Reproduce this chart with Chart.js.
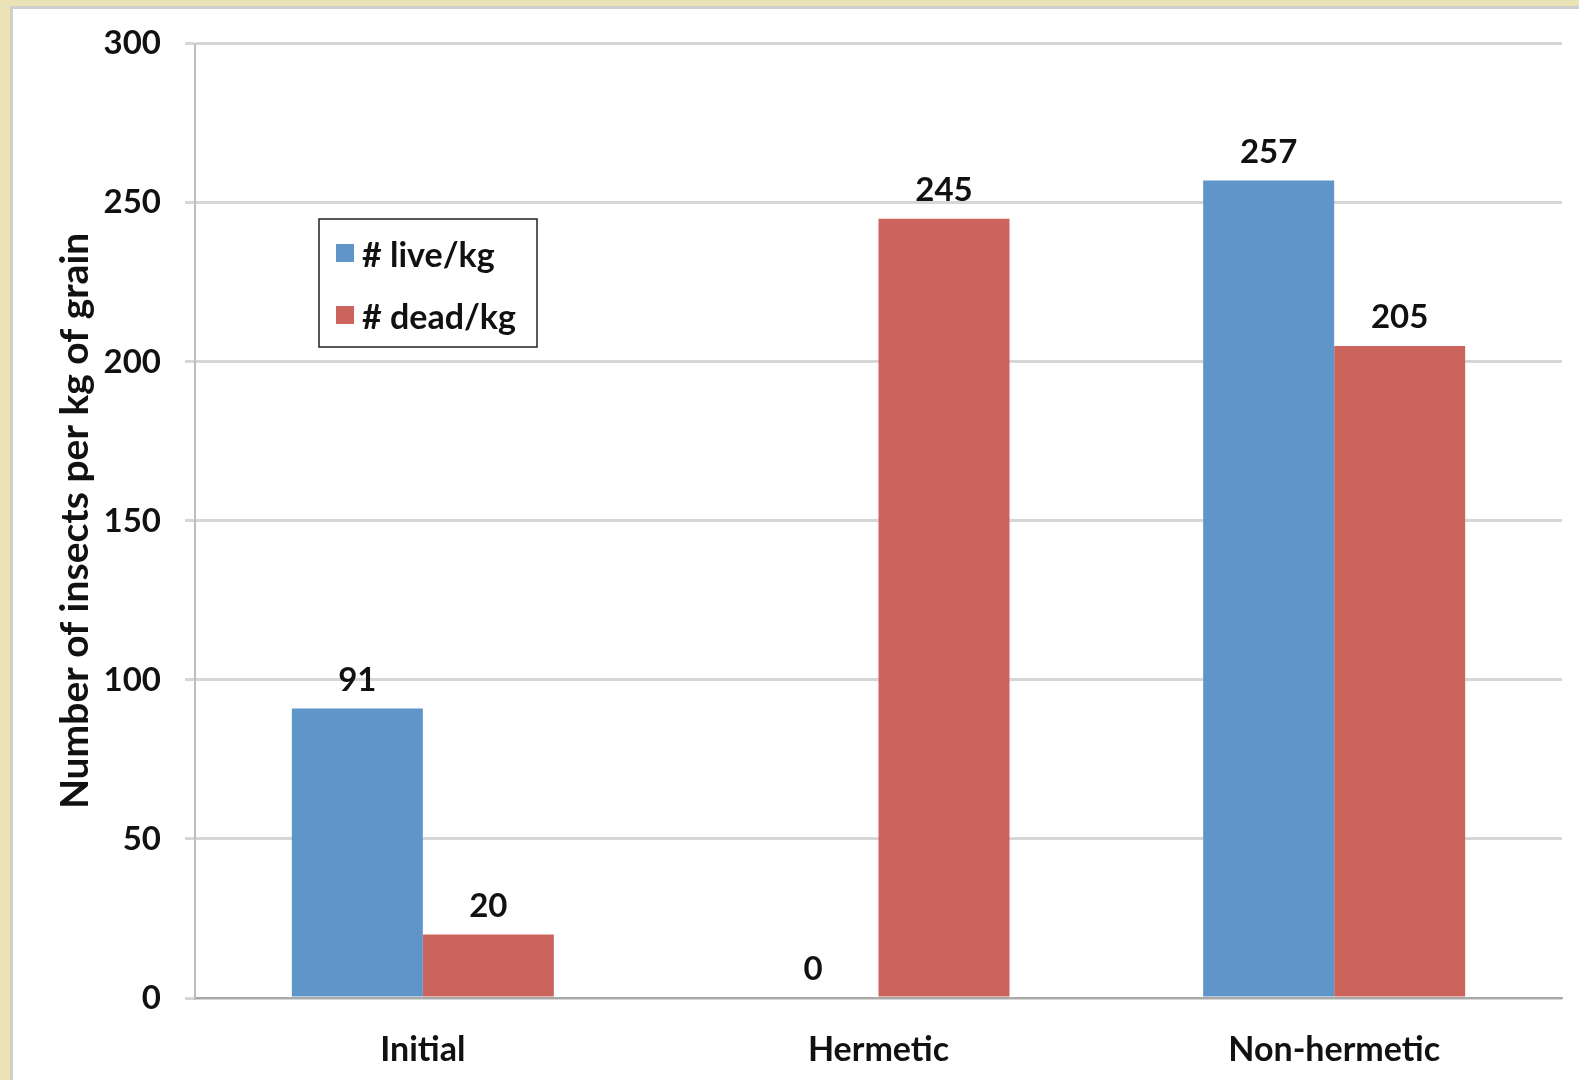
<!DOCTYPE html>
<html>
<head>
<meta charset="utf-8">
<script src="https://cdn.jsdelivr.net/npm/chart.js@4.4.1/dist/chart.umd.min.js"></script>
<style>
  html, body { margin: 0; padding: 0; }
  body { width: 1579px; height: 1080px; background: #ebe2b5; position: relative; overflow: hidden; }
  #panel { position: absolute; left: 10px; top: 6px; right: 0; bottom: 0; background: #fff;
           border-left: 3px solid #cfcfcf; border-top: 3px solid #cfcfcf; }
  #wrap { position: absolute; left: 0; top: 0; width: 1579px; height: 1080px; }
</style>
</head>
<body>
<div id="panel"></div>
<div id="wrap"><canvas id="myChart"></canvas></div>
<script>
// data
const categories = ['Initial', 'Hermetic', 'Non-hermetic'];
const liveValues = [91, 0, 257];
const deadValues = [20, 245, 205];
const seriesNames = ['# live/kg', '# dead/kg'];
const yTicks = [0, 50, 100, 150, 200, 250, 300];

const FONT = 'Lato, "Open Sans", sans-serif';
const blue = '#6095c9';
const red = '#cc645e';

// value labels above bars
const valueLabels = {
  id: 'valueLabels',
  afterDatasetsDraw(chart) {
    const ctx = chart.ctx;
    ctx.save();
    ctx.font = 'bold 33px ' + FONT;
    ctx.fillStyle = '#111';
    ctx.textAlign = 'center';
    ctx.textBaseline = 'bottom';
    chart.data.datasets.forEach((ds, i) => {
      chart.getDatasetMeta(i).data.forEach((bar, j) => {
        ctx.fillText(ds.data[j], bar.x, bar.y - 12);
      });
    });
    ctx.restore();
  }
};

// boxed legend inside the plot
const boxLegend = {
  id: 'boxLegend',
  afterDraw(chart) {
    const ctx = chart.ctx;
    const x0 = 319, y0 = 219, w = 218, h = 128;
    ctx.save();
    ctx.fillStyle = '#fff';
    ctx.fillRect(x0, y0, w, h);
    ctx.strokeStyle = '#222';
    ctx.lineWidth = 1.5;
    ctx.strokeRect(x0, y0, w, h);
    ctx.font = 'bold 34px ' + FONT;
    ctx.textBaseline = 'middle';
    chart.data.datasets.forEach((ds, i) => {
      const cy = y0 + 36 + i * 62;
      ctx.fillStyle = ds.backgroundColor;
      ctx.fillRect(x0 + 17, cy - 11, 18, 18);
      ctx.fillStyle = '#111';
      ctx.fillText(ds.label, x0 + 43, cy + 1);
    });
    ctx.restore();
  }
};

const data = {
  labels: categories,
  datasets: [
    { label: seriesNames[0], data: liveValues, backgroundColor: blue,
      categoryPercentage: 0.575, barPercentage: 1.0 },
    { label: seriesNames[1], data: deadValues, backgroundColor: red,
      categoryPercentage: 0.575, barPercentage: 1.0 }
  ]
};

const config = {
  type: 'bar',
  data,
  options: {
    responsive: false,
    animation: false,
    layout: { padding: { left: 52, top: 43, right: 17, bottom: 0 } },
    plugins: {
      legend: { display: false },
      tooltip: { enabled: false }
    },
    scales: {
      x: {
        grid: { display: false },
        border: { display: true, color: '#a9a9a9', width: 2 },
        ticks: { color: '#111', font: { family: FONT, size: 34, weight: 'bold' }, padding: 24 },
        afterFit(scale) { scale.height = 82; }
      },
      y: {
        min: 0, max: 300,
        afterBuildTicks(scale) { scale.ticks = yTicks.map(v => ({ value: v })); },
        grid: { color: '#d6d6d6', lineWidth: 3, tickLength: 10 },
        border: { display: true, color: '#bdbdbd', width: 2 },
        ticks: { color: '#111', font: { family: FONT, size: 33, weight: 'bold' }, padding: 24 },
        title: {
          display: true,
          text: 'Number of insects per kg of grain',
          color: '#111',
          font: { family: FONT, size: 39, weight: 'bold' },
          padding: { top: 0, bottom: 0 }
        },
        afterFit(scale) { scale.width = 143; }
      }
    }
  },
  plugins: [valueLabels, boxLegend]
};

const canvas = document.getElementById('myChart');
canvas.width = 1579;
canvas.height = 1080;
const myChart = new Chart(canvas, config);
</script>
</body>
</html>
